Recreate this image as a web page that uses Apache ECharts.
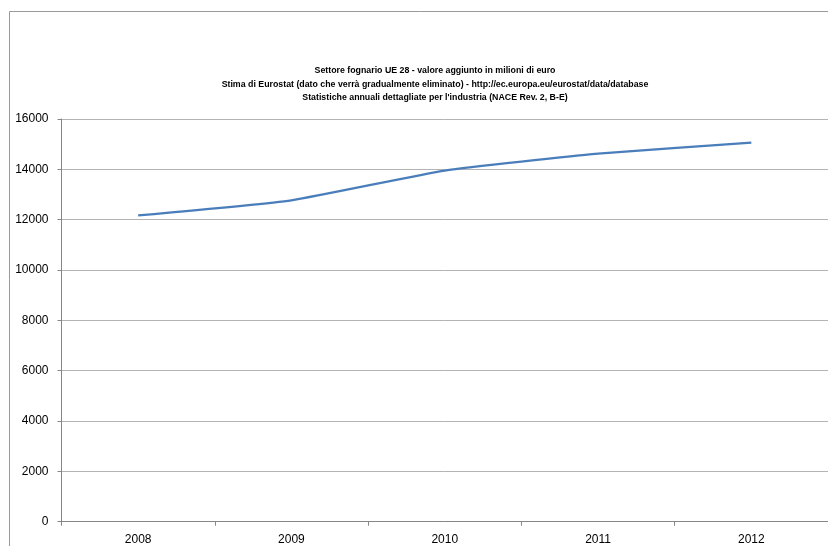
<!DOCTYPE html>
<html>
<head>
<meta charset="utf-8">
<script src="https://cdn.jsdelivr.net/npm/echarts@6/dist/echarts.min.js"></script>
<style>
html,body{margin:0;padding:0;background:#fff;overflow:hidden;}
#chart{width:828px;height:546px;}
</style>
</head>
<body>
<div id="chart"></div>
<script>
var titleLines = [
  "Settore fognario UE 28 - valore aggiunto in milioni di euro",
  "Stima di Eurostat (dato che verrà gradualmente eliminato) - http://ec.europa.eu/eurostat/data/database",
  "Statistiche annuali dettagliate per l'industria (NACE Rev. 2, B-E)"
];
var years = ["2008", "2009", "2010", "2011", "2012"];
var values = [12170, 12770, 13950, 14620, 15060];
var yTicks = [0, 2000, 4000, 6000, 8000, 10000, 12000, 14000, 16000];

var chart = echarts.init(document.getElementById('chart'), null, {renderer: 'canvas'});
var font = "'Liberation Sans', Arial, sans-serif";
chart.setOption({
  animation: false,
  backgroundColor: '#ffffff',
  graphic: [{
    type: 'polyline',
    shape: {points: [[9.5, 560], [9.5, 11.5], [840, 11.5]]},
    style: {fill: null, stroke: '#9a9a9a', lineWidth: 1},
    z: -1
  }],
  title: {
    text: titleLines.join('\n'),
    left: 430,
    textAlign: 'center',
    top: 59,
    textStyle: {fontFamily: font, fontSize: 8.8, fontWeight: 'bold', color: '#000', lineHeight: 13.5}
  },
  grid: {left: 61.5, right: -2, top: 119, bottom: 24.3, containLabel: false},
  xAxis: {
    type: 'category',
    data: years,
    boundaryGap: true,
    axisLine: {show: true, lineStyle: {color: '#868686', width: 1}},
    axisTick: {show: true, alignWithLabel: false, length: 4, inside: false, lineStyle: {color: '#868686'}},
    axisLabel: {fontFamily: font, fontSize: 12, color: '#000', margin: 12}
  },
  yAxis: {
    type: 'value',
    min: yTicks[0],
    max: yTicks[yTicks.length - 1],
    interval: yTicks[1] - yTicks[0],
    axisLine: {show: true, lineStyle: {color: '#868686', width: 1}},
    axisTick: {show: true, length: 4, lineStyle: {color: '#868686'}},
    axisLabel: {fontFamily: font, fontSize: 12, color: '#000', margin: 13, formatter: function (v) { return String(v); }},
    splitLine: {show: true, lineStyle: {color: '#b3b3b3', width: 1}}
  },
  series: [{
    type: 'line',
    data: values,
    smooth: 0.15,
    symbol: 'none',
    lineStyle: {color: '#4a7ebb', width: 2.25},
    itemStyle: {color: '#4a7ebb'}
  }]
});
</script>
</body>
</html>
